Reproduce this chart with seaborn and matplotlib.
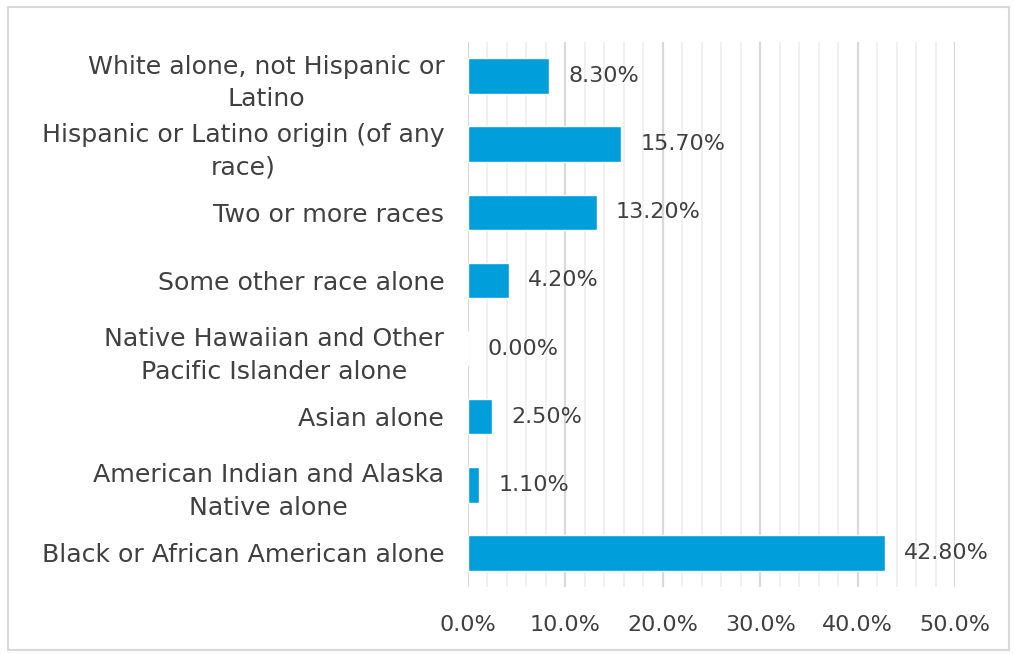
import matplotlib
matplotlib.use("Agg")
import matplotlib.pyplot as plt
from matplotlib.patches import Rectangle
from matplotlib.ticker import MultipleLocator, PercentFormatter
import seaborn as sns
import pandas as pd

# Race / ethnicity shares, listed top to bottom
categories = [
    "White alone, not Hispanic or\nLatino",
    "Hispanic or Latino origin (of any\nrace)",
    "Two or more races",
    "Some other race alone",
    "Native Hawaiian and Other\nPacific Islander alone",
    "Asian alone",
    "American Indian and Alaska\nNative alone",
    "Black or African American alone",
]
shares = [8.3, 15.7, 13.2, 4.2, 0.0, 2.5, 1.1, 42.8]
x_ticks = [0, 10, 20, 30, 40, 50]

df = pd.DataFrame({"group": categories, "share": shares})

sns.set_theme(style="white")
plt.rcParams["font.family"] = ["DejaVu Sans"]
text_color = "#404040"
bar_color = "#009FDB"
fs_cat = 18.2
fs_num = 16

fig = plt.figure(figsize=(10.15, 6.54), dpi=100)
ax = fig.add_axes([0.461, 0.1024, 0.48, 0.8334])

sns.barplot(data=df, x="share", y="group", orient="h", color=bar_color,
            width=0.52, saturation=1, ax=ax, zorder=3)

ax.set_xlim(0, 50)
ax.xaxis.set_major_locator(MultipleLocator(10))
ax.xaxis.set_minor_locator(MultipleLocator(2))
ax.xaxis.set_major_formatter(PercentFormatter(decimals=1))
ax.grid(axis="x", which="major", color="#D9D9D9", linewidth=1.6, zorder=0)
ax.grid(axis="x", which="minor", color="#F0F0F0", linewidth=1.4, zorder=0)
ax.set_axisbelow(True)
ax.set_xticks(x_ticks)

for spine in ax.spines.values():
    spine.set_visible(False)

ax.set_xlabel("")
ax.set_ylabel("")
ax.tick_params(axis="x", which="both", length=0, pad=20, labelsize=fs_num,
               labelcolor=text_color)
ax.tick_params(axis="y", length=0, pad=17, labelsize=fs_cat, labelcolor=text_color)
for lbl in ax.get_yticklabels():
    lbl.set_multialignment("center")
    lbl.set_linespacing(1.45)

# Value labels next to each bar
for i, v in enumerate(shares):
    ax.annotate(f"{v:.2f}%", xy=(v, i), xytext=(14, 0), textcoords="offset points",
                va="center", ha="left", fontsize=fs_num, color=text_color)

# Light chart frame
fig.patches.append(Rectangle((0.008, 0.006), 0.986, 0.984, transform=fig.transFigure,
                             fill=False, edgecolor="#D9D9D9", linewidth=1.5))

fig.savefig("out.png", dpi=100)
